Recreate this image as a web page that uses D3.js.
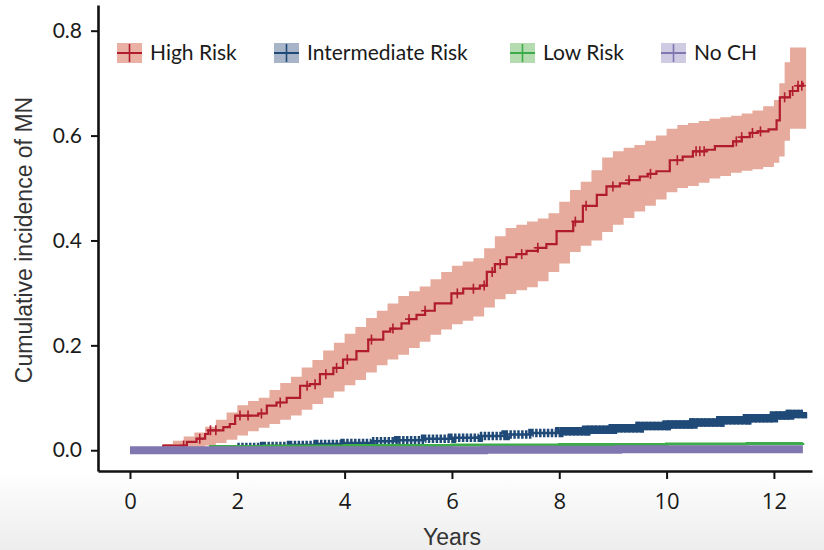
<!DOCTYPE html>
<html>
<head>
<meta charset="utf-8">
<script src="https://cdn.jsdelivr.net/npm/d3@7"></script>
<style>
  html, body { margin: 0; padding: 0; background: #ffffff; }
  svg { display: block; }
</style>
</head>
<body>
<svg id="chart" width="824" height="550"></svg>
<script>
// ---------------- DATA ----------------
const seriesNames = ["High Risk", "Intermediate Risk", "Low Risk", "No CH"];
const xTicks = [0, 2, 4, 6, 8, 10, 12];
const yTicks = [0.0, 0.2, 0.4, 0.6, 0.8];

// High Risk step curve
const highTimes = [0, 0.62, 1.06, 1.24, 1.40, 1.46, 1.74, 1.86, 1.96, 2.39, 2.55, 2.73, 2.92, 3.17, 3.35, 3.54, 3.79, 3.97, 4.22, 4.44, 4.72, 4.85, 5.06, 5.20, 5.34, 5.50, 5.68, 5.99, 6.21, 6.52, 6.65, 6.80, 7.02, 7.20, 7.39, 7.60, 7.76, 7.95, 8.26, 8.44, 8.70, 8.88, 9.13, 9.30, 9.50, 9.65, 9.81, 10.06, 10.30, 10.49, 10.74, 10.90, 11.24, 11.40, 11.55, 11.70, 11.90, 12.05, 12.11, 12.30, 12.45, 12.54];
const highValues = [0, 0.009, 0.016, 0.022, 0.031, 0.038, 0.044, 0.050, 0.066, 0.070, 0.085, 0.091, 0.100, 0.123, 0.126, 0.145, 0.157, 0.173, 0.189, 0.211, 0.226, 0.232, 0.242, 0.250, 0.258, 0.266, 0.280, 0.299, 0.308, 0.314, 0.340, 0.355, 0.368, 0.374, 0.380, 0.386, 0.393, 0.418, 0.436, 0.466, 0.487, 0.503, 0.509, 0.515, 0.522, 0.527, 0.532, 0.553, 0.560, 0.570, 0.573, 0.580, 0.589, 0.597, 0.605, 0.608, 0.612, 0.629, 0.673, 0.685, 0.695, 0.701];
// High Risk confidence band
const bandTimes = [0.50, 0.62, 0.80, 1.00, 1.20, 1.40, 1.60, 1.80, 2.00, 2.20, 2.40, 2.60, 2.80, 3.00, 3.20, 3.40, 3.60, 3.80, 4.00, 4.20, 4.40, 4.60, 4.80, 5.00, 5.20, 5.40, 5.60, 5.80, 6.00, 6.20, 6.40, 6.60, 6.80, 7.00, 7.20, 7.40, 7.60, 7.80, 8.00, 8.20, 8.40, 8.60, 8.80, 9.00, 9.20, 9.40, 9.60, 9.80, 10.00, 10.20, 10.40, 10.60, 10.80, 11.00, 11.20, 11.40, 11.60, 11.80, 12.00, 12.10, 12.20, 12.30, 12.60];
const bandLower = [0, 0, 0, 0.002, 0.005, 0.009, 0.014, 0.020, 0.028, 0.036, 0.043, 0.050, 0.058, 0.066, 0.077, 0.088, 0.100, 0.112, 0.124, 0.134, 0.148, 0.162, 0.173, 0.182, 0.195, 0.207, 0.220, 0.230, 0.240, 0.247, 0.255, 0.272, 0.288, 0.298, 0.305, 0.311, 0.322, 0.340, 0.356, 0.378, 0.390, 0.400, 0.416, 0.430, 0.443, 0.455, 0.466, 0.478, 0.492, 0.500, 0.504, 0.510, 0.518, 0.523, 0.529, 0.533, 0.536, 0.540, 0.548, 0.560, 0.590, 0.613, 0.613];
const bandUpper = [0.004, 0.012, 0.018, 0.026, 0.034, 0.045, 0.058, 0.072, 0.086, 0.094, 0.100, 0.115, 0.128, 0.140, 0.158, 0.172, 0.190, 0.205, 0.222, 0.235, 0.252, 0.266, 0.280, 0.294, 0.303, 0.312, 0.326, 0.340, 0.352, 0.360, 0.366, 0.385, 0.408, 0.424, 0.430, 0.436, 0.442, 0.452, 0.474, 0.496, 0.512, 0.534, 0.558, 0.570, 0.577, 0.582, 0.590, 0.600, 0.613, 0.620, 0.624, 0.628, 0.632, 0.635, 0.638, 0.642, 0.648, 0.656, 0.668, 0.700, 0.740, 0.768, 0.768];
// High Risk censor marks (times)
const highCensor = [1.00, 1.30, 1.50, 1.60, 2.05, 2.20, 2.45, 2.80, 3.30, 3.45, 3.65, 3.85, 4.05, 4.50, 4.90, 5.20, 5.50, 6.10, 6.40, 6.60, 6.75, 6.90, 7.30, 7.60, 8.30, 8.50, 9.00, 9.30, 9.70, 10.20, 10.55, 10.62, 10.70, 11.30, 11.40, 11.60, 11.75, 12.20, 12.35, 12.45, 12.52];

// Intermediate Risk
const interTimes = [0, 0.5, 1.0, 1.5, 2.0, 2.5, 3.0, 3.5, 4.0, 4.5, 5.0, 5.5, 6.0, 6.5, 7.0, 7.5, 8.0, 8.5, 9.0, 9.5, 10.0, 10.5, 11.0, 11.5, 12.0, 12.3, 12.54];
const interValues = [0, 0.001, 0.002, 0.004, 0.006, 0.008, 0.010, 0.012, 0.014, 0.017, 0.019, 0.022, 0.024, 0.027, 0.030, 0.033, 0.036, 0.039, 0.042, 0.046, 0.049, 0.053, 0.057, 0.061, 0.066, 0.069, 0.073];

// Low Risk
const lowTimes = [0, 0.8, 1.5, 2.5, 4.0, 6.0, 8.0, 10.0, 11.5, 12.54];
const lowValues = [0, 0.003, 0.007, 0.008, 0.009, 0.010, 0.011, 0.012, 0.013, 0.014];

// No CH
const noTimes = [0, 6.6, 9.1, 12.54];
const noValues = [0, 0.001, 0.002, 0.002];

// ---------------- STYLE ----------------
const lineColors = ["#b01c2e", "#1f4a78", "#3dab4a", "#8077b1"];
const keyFills = ["#e9b0a3", "#a8b4c8", "#b4dcb0", "#cfcbe3"];
const bandFill = "#e6ab9c";

const svg = d3.select("#chart");
const W = 824, H = 550;

// subtle photo-like background shading at bottom
const defs = svg.append("defs");
const grad = defs.append("linearGradient").attr("id", "bg").attr("x1", 0).attr("y1", 0).attr("x2", 0).attr("y2", 1);
grad.append("stop").attr("offset", "0%").attr("stop-color", "#ffffff");
grad.append("stop").attr("offset", "100%").attr("stop-color", "#ededed");
svg.append("rect").attr("x", 0).attr("y", 0).attr("width", W).attr("height", H).attr("fill", "#ffffff");
svg.append("rect").attr("x", 0).attr("y", 470).attr("width", W).attr("height", 80).attr("fill", "url(#bg)");

const x = d3.scaleLinear().domain([-0.596, 12.71]).range([98, 812]);
const y = d3.scaleLinear().domain([-0.0396, 0.849]).range([471, 5]);

function zip(ts, vs) { return ts.map((t, i) => ({ t: t, v: vs[i] })); }
const stepLine = d3.line().x(d => x(d.t)).y(d => y(d.v)).curve(d3.curveStepAfter);

// band
const band = bandTimes.map((t, i) => ({ t: t, lo: bandLower[i], hi: bandUpper[i] }));
svg.append("path")
  .attr("d", d3.area().x(d => x(d.t)).y0(d => y(d.lo)).y1(d => y(d.hi)).curve(d3.curveStepAfter)(band))
  .attr("fill", bandFill);

// High risk line
const highData = zip(highTimes, highValues);
svg.append("path").attr("d", stepLine(highData))
  .attr("fill", "none").attr("stroke", lineColors[0]).attr("stroke-width", 2.2);
function stepValue(ts, vs, t) {
  let v = vs[0];
  for (let i = 0; i < ts.length; i++) { if (ts[i] <= t) v = vs[i]; }
  return v;
}
const cs = svg.append("g");
highCensor.forEach(t => {
  const cx = x(t), cy = y(stepValue(highTimes, highValues, t));
  cs.append("line").attr("x1", cx).attr("x2", cx).attr("y1", cy - 5).attr("y2", cy + 5)
    .attr("stroke", lineColors[0]).attr("stroke-width", 1.6);
  cs.append("line").attr("x1", cx - 4).attr("x2", cx + 4).attr("y1", cy).attr("y2", cy)
    .attr("stroke", lineColors[0]).attr("stroke-width", 1.6);
});

// Intermediate
const interData = zip(interTimes, interValues);
svg.append("path").attr("d", stepLine(interData))
  .attr("fill", "none").attr("stroke", lineColors[1]).attr("stroke-width", 2.5);
svg.append("path").attr("d", stepLine(interData.filter(d => d.t >= 2.0)))
  .attr("fill", "none").attr("stroke", lineColors[1]).attr("stroke-width", 8.5)
  .attr("stroke-dasharray", "2.5,1.4");
svg.append("path").attr("d", stepLine(interData.filter(d => d.t >= 8)))
  .attr("fill", "none").attr("stroke", lineColors[1]).attr("stroke-width", 8.5);

// Low
svg.append("path").attr("d", stepLine(zip(lowTimes, lowValues)))
  .attr("fill", "none").attr("stroke", lineColors[2]).attr("stroke-width", 3);

// No CH
svg.append("path").attr("d", stepLine(zip(noTimes, noValues)))
  .attr("fill", "none").attr("stroke", lineColors[3]).attr("stroke-width", 8);

// ---------------- AXES ----------------
const yAxis = svg.append("g").attr("transform", "translate(98,0)")
  .call(d3.axisLeft(y).tickValues(yTicks).tickFormat(d3.format(".1f")).tickSize(7).tickPadding(9).tickSizeOuter(0));
yAxis.select(".domain").attr("stroke", "#111").attr("stroke-width", 2.6);
yAxis.selectAll(".tick line").attr("stroke", "#111").attr("stroke-width", 2);
yAxis.selectAll(".tick text").attr("font-family", "Lato, 'Noto Sans', sans-serif").attr("font-size", 21).attr("fill", "#1a1a1a");

const xAxis = svg.append("g").attr("transform", "translate(0,471)")
  .call(d3.axisBottom(x).tickValues(xTicks).tickFormat(d3.format("d")).tickSize(8).tickPadding(14).tickSizeOuter(0));
xAxis.select(".domain").attr("stroke", "#111").attr("stroke-width", 2.6);
xAxis.selectAll(".tick line").attr("stroke", "#111").attr("stroke-width", 2);
xAxis.selectAll(".tick text").attr("font-family", "'Liberation Sans Narrow', 'Open Sans', sans-serif").attr("font-size", 22).attr("fill", "#1a1a1a");

// axis titles
svg.append("text").attr("transform", "translate(32,240) rotate(-90)")
  .attr("text-anchor", "middle")
  .attr("font-family", "'Liberation Sans Narrow', sans-serif").attr("font-size", 23).attr("fill", "#333")
  .text("Cumulative incidence of MN");
svg.append("text").attr("x", 452).attr("y", 545)
  .attr("text-anchor", "middle")
  .attr("font-family", "'Liberation Sans Narrow', sans-serif").attr("font-size", 23).attr("fill", "#333")
  .text("Years");

// ---------------- LEGEND ----------------
const keyX = [117, 274, 510, 661];
const lg = svg.append("g");
seriesNames.forEach((name, i) => {
  const kx = keyX[i], ky = 43, kw = 25, kh = 20;
  lg.append("rect").attr("x", kx).attr("y", ky).attr("width", kw).attr("height", kh).attr("fill", keyFills[i]);
  lg.append("line").attr("x1", kx).attr("x2", kx + kw).attr("y1", ky + kh / 2).attr("y2", ky + kh / 2)
    .attr("stroke", lineColors[i]).attr("stroke-width", 2);
  lg.append("line").attr("x1", kx + kw / 2).attr("x2", kx + kw / 2).attr("y1", ky + 1).attr("y2", ky + kh - 1)
    .attr("stroke", lineColors[i]).attr("stroke-width", 1.6);
  lg.append("text").attr("x", kx + kw + 8).attr("y", ky + kh / 2).attr("dy", "0.35em")
    .attr("font-family", "Lato, 'Noto Sans', sans-serif").attr("font-size", 21).attr("fill", "#1a1a1a")
    .text(name);
});
</script>
</body>
</html>
